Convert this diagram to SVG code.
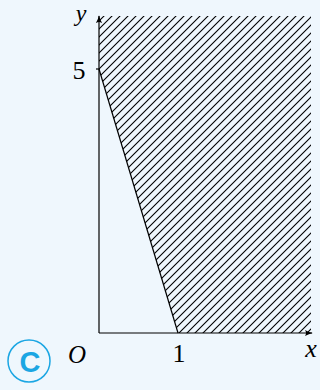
<svg xmlns="http://www.w3.org/2000/svg" width="320" height="390" viewBox="0 0 320 390">
<defs>
<pattern id="hatch" patternUnits="userSpaceOnUse" width="8" height="8">
<path d="M-2,2 L2,-2 M0,8 L8,0 M6,10 L10,6" stroke="#000" stroke-width="1.1"/>
</pattern>
<marker id="arr" viewBox="0 0 10 10" refX="9" refY="5" markerWidth="8" markerHeight="8" markerUnits="userSpaceOnUse" orient="auto">
<path d="M0,1 Q5,4 10,5 Q5,6 0,9 Q3,5 0,1 Z" fill="#000"/>
</marker>
</defs>
<style>
.lbl{font-family:"Liberation Serif","DejaVu Serif",serif;fill:#000;}
.it{font-style:italic;}
.ax{stroke:#000;stroke-width:1.2;fill:none;}
</style>
<rect width="320" height="390" fill="#eff7fd"/>
<g id="region">
<polygon points="99,16 311,16 311,333 178,333 99,69" fill="url(#hatch)"/>
</g>
<g id="connectors">
<line class="ax" x1="99" y1="333" x2="312" y2="333" marker-end="url(#arr)"/>
<line class="ax" x1="99" y1="333" x2="99" y2="16" marker-end="url(#arr)"/>
<line class="ax" x1="99" y1="69" x2="178" y2="333"/>
<line class="ax" x1="96" y1="69" x2="99" y2="69"/>
</g>
<g id="labels">
<text class="lbl it" x="81" y="21" font-size="24" text-anchor="middle">y</text>
<text class="lbl" x="79" y="79" font-size="26" text-anchor="middle">5</text>
<text class="lbl it" x="77" y="363" font-size="25" text-anchor="middle">O</text>
<text class="lbl" x="179" y="362" font-size="26" text-anchor="middle">1</text>
<text class="lbl it" x="311" y="357" font-size="26" text-anchor="middle">x</text>
</g>
<g id="logo">
<circle cx="29" cy="361" r="21" fill="none" stroke="#1ba6e3" stroke-width="1.5"/>
<text x="30" y="371.5" font-family="'Liberation Sans',Arial,sans-serif" font-weight="bold" font-size="29" fill="#1ba6e3" text-anchor="middle">C</text>
</g>
</svg>
